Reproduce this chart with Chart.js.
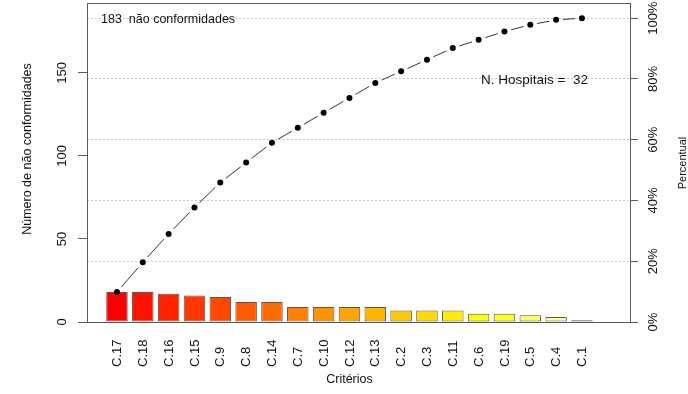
<!DOCTYPE html>
<html>
<head>
<meta charset="utf-8">
<script src="https://cdn.jsdelivr.net/npm/chart.js@4.4.1/dist/chart.umd.min.js"></script>
<style>
  html, body { margin: 0; padding: 0; background: #ffffff; }
  #wrap { width: 688px; height: 394px; position: relative; }
</style>
</head>
<body>
<div id="wrap"><canvas id="pareto"></canvas></div>
<script>
// Criteria, ordered by number of non-conformities
const categories = ['C.17', 'C.18', 'C.16', 'C.15', 'C.9', 'C.8', 'C.14', 'C.7', 'C.10', 'C.12',
                    'C.13', 'C.2', 'C.3', 'C.11', 'C.6', 'C.19', 'C.5', 'C.4', 'C.1'];
const counts = [18, 18, 17, 16, 15, 12, 12, 9, 9, 9, 9, 7, 7, 7, 5, 5, 4, 3, 1];
const countTicks = [0, 50, 100, 150];
const percentTicks = [0, 20, 40, 60, 80, 100];
const hospitals = 32;

// heat palette, red through yellow to pale yellow
const barColors = ['#FF0000', '#FF1200', '#FF2400', '#FF3700', '#FF4900', '#FF5B00', '#FF6D00',
                   '#FF8000', '#FF9200', '#FFA400', '#FFB600', '#FFC800', '#FFDB00', '#FFED00',
                   '#FFFF00', '#FFFF20', '#FFFF60', '#FFFF9F', '#FFFFDF'];

const total = counts.reduce((a, b) => a + b, 0);
let running = 0;
const cumulativePct = counts.map(v => (running += v) / total * 100);
const countMax = total * 1.05;
const pctMax = 100 * countMax / total;

const FONT = "'Liberation Sans', Arial, Helvetica, sans-serif";
const INK = '#111111';
const AXIS = '#5a5a5a';

Chart.defaults.font.family = FONT;
Chart.defaults.font.size = 13;
Chart.defaults.color = INK;

function fixBox(width, height) {
  return function (scale) {
    if (width !== null) scale.width = width;
    if (height !== null) scale.height = height;
    scale.paddingTop = 0; scale.paddingBottom = 0;
    scale.paddingLeft = 0; scale.paddingRight = 0;
  };
}

// frame, category labels, axis titles and annotations
const decorations = {
  id: 'decorations',
  afterDraw(chart) {
    const { ctx, chartArea: a, scales } = chart;
    const x = scales.x;
    ctx.save();
    ctx.strokeStyle = AXIS;
    ctx.lineWidth = 1;
    ctx.strokeRect(a.left + 0.5, a.top + 0.5, a.right - a.left, a.bottom - a.top);

    ctx.fillStyle = INK;
    ctx.font = '13px ' + FONT;
    ctx.textAlign = 'left';
    ctx.textBaseline = 'middle';
    categories.forEach((c, i) => {
      const px = x.getPixelForValue(i + 1);
      ctx.save();
      ctx.translate(px + 0.5, x.top + 45);
      ctx.rotate(-Math.PI / 2);
      ctx.fillText(c, 0, 0);
      ctx.restore();
    });

    const midY = (a.top + a.bottom) / 2;
    ctx.font = '12.5px ' + FONT;
    ctx.textAlign = 'center';
    ctx.save();
    ctx.translate(scales.y.left + 28, midY - 13.5);
    ctx.rotate(-Math.PI / 2);
    ctx.fillText('Número de não conformidades', 0, 0);
    ctx.restore();

    ctx.save();
    ctx.font = '11px ' + FONT;
    ctx.translate(scales.y2.right - 5, midY + 0.5);
    ctx.rotate(-Math.PI / 2);
    ctx.fillText('Percentual', 0, 0);
    ctx.restore();

    const barsMid = (x.getPixelForValue(1) + x.getPixelForValue(categories.length)) / 2;
    ctx.fillText('Critérios', barsMid, x.top + 58);

    ctx.textBaseline = 'alphabetic';
    ctx.textAlign = 'left';
    ctx.fillText(total + '  não conformidades', a.left + 14, a.top + 20.3);
    ctx.textAlign = 'right';
    ctx.font = '13.5px ' + FONT;
    ctx.fillText('N. Hospitais =  ' + hospitals, a.right - 42, a.top + 81);
    ctx.restore();
  }
};

const GAP = 7;

new Chart(document.getElementById('pareto'), {
  type: 'bar',
  data: {
    datasets: [
      {
        type: 'line',
        order: 0,
        yAxisID: 'y2',
        data: cumulativePct.map((v, i) => ({ x: i + 1, y: v })),
        borderColor: '#333333',
        borderWidth: 1,
        tension: 0,
        pointRadius: 3,
        pointHoverRadius: 3,
        pointBackgroundColor: '#000000',
        pointBorderWidth: 0,
        segment: {
          // leave a small gap around each point, as with type "b" lines
          borderDash: (c) => {
            const L = Math.hypot(c.p1.x - c.p0.x, c.p1.y - c.p0.y);
            return [0, GAP, Math.max(L - 2 * GAP, 0.01), GAP];
          }
        }
      },
      {
        type: 'bar',
        order: 1,
        yAxisID: 'y',
        data: counts.map((v, i) => ({ x: i + 1, y: v })),
        backgroundColor: barColors,
        borderColor: 'rgba(40,30,20,0.75)',
        borderWidth: 1,
        borderSkipped: false,
        categoryPercentage: 1,
        barPercentage: 0.833
      }
    ]
  },
  options: {
    responsive: true,
    maintainAspectRatio: false,
    animation: false,
    events: [],
    layout: { padding: { top: 3, left: 0, right: 0, bottom: 0 } },
    plugins: { legend: { display: false }, tooltip: { enabled: false } },
    scales: {
      x: {
        type: 'linear',
        position: 'bottom',
        offset: false,
        min: -0.16,
        max: 20.86,
        afterBuildTicks: (s) => { s.ticks = categories.map((_, i) => ({ value: i + 1 })); },
        ticks: { display: false },
        grid: { display: false, offset: false },
        border: { display: false },
        afterFit: fixBox(null, 72)
      },
      y: {
        position: 'left',
        min: 0,
        max: countMax,
        afterBuildTicks: (s) => { s.ticks = countTicks.map(v => ({ value: v })); },
        ticks: {
          autoSkip: false,
          minRotation: 90,
          maxRotation: 90,
          crossAlign: 'center',
          padding: 4.6,
          color: INK,
          font: { size: 13 }
        },
        grid: { drawOnChartArea: false, drawTicks: true, tickLength: 9, tickColor: AXIS },
        border: { display: false },
        afterFit: fixBox(87, null)
      },
      y2: {
        position: 'right',
        min: 0,
        max: pctMax,
        afterBuildTicks: (s) => { s.ticks = percentTicks.map(v => ({ value: v })); },
        ticks: {
          autoSkip: false,
          minRotation: 90,
          maxRotation: 90,
          crossAlign: 'center',
          padding: -1,
          color: INK,
          font: { size: 13 },
          callback: (v) => v + '%'
        },
        grid: {
          drawOnChartArea: true,
          color: '#c8c8c8',
          drawTicks: true,
          tickLength: 8,
          tickColor: AXIS,
          tickBorderDash: []
        },
        border: { display: false, dash: [2, 2] },
        afterFit: fixBox(58, null)
      }
    }
  },
  plugins: [decorations]
});
</script>
</body>
</html>
